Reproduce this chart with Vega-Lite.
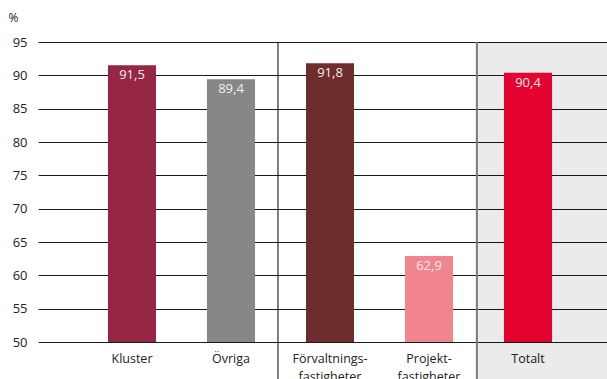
{
  "$schema": "https://vega.github.io/schema/vega-lite/v6.json",
  "width": 569,
  "height": 300,
  "autosize": "none",
  "padding": {"left": 38, "top": 42, "right": 0, "bottom": 37},
  "config": {
    "view": {"stroke": null},
    "font": "Open Sans",
    "locale": {"number": {"decimal": ",", "thousands": " ", "grouping": [3], "currency": ["", " kr"]}}
  },
  "data": {
    "values": [
      {"kategori": "Kluster", "andel": 91.5},
      {"kategori": "Övriga", "andel": 89.4},
      {"kategori": "Förvaltnings-fastigheter", "andel": 91.8},
      {"kategori": "Projekt-fastigheter", "andel": 62.9},
      {"kategori": "Totalt", "andel": 90.4}
    ]
  },
  "resolve": {"scale": {"x": "independent"}},
  "layer": [
    {
      "data": {"values": [{}]},
      "layer": [
        {
          "mark": {"type": "rect", "color": "#000000", "opacity": 0.078, "clip": false},
          "encoding": {
            "x": {"datum": 4.485, "type": "quantitative", "scale": {"domain": [0.05, 5.8], "nice": false, "zero": false}, "axis": null},
            "x2": {"datum": 5.8},
            "y": {
              "datum": 95, "type": "quantitative",
              "scale": {"domain": [50, 95], "nice": false, "zero": false},
              "axis": {
                "values": [50, 55, 60, 65, 70, 75, 80, 85, 90, 95],
                "title": "%", "titleAngle": 0, "titleAlign": "left", "titleBaseline": "middle",
                "titleX": -30, "titleY": -25, "titleFontSize": 12, "titleFontWeight": "normal", "titleColor": "#222222",
                "ticks": false, "domain": false,
                "labelFontSize": 13, "labelColor": "#222222", "labelPadding": 11,
                "grid": true, "gridColor": "#1a1a1a", "gridWidth": 1, "gridOpacity": 1
              }
            },
            "y2": {"datum": 44}
          }
        },
        {
          "mark": {"type": "rule", "color": "#000000", "strokeWidth": 1, "clip": false},
          "encoding": {
            "x": {"datum": 2.475, "type": "quantitative", "scale": {"domain": [0.05, 5.8], "nice": false, "zero": false}, "axis": null},
            "y": {
              "datum": 95, "type": "quantitative",
              "axis": {
                "values": [50, 55, 60, 65, 70, 75, 80, 85, 90, 95],
                "title": "%", "titleAngle": 0, "titleAlign": "left", "titleBaseline": "middle",
                "titleX": -30, "titleY": -25, "titleFontSize": 12, "titleFontWeight": "normal", "titleColor": "#222222",
                "ticks": false, "domain": false,
                "labelFontSize": 13, "labelColor": "#222222", "labelPadding": 11,
                "grid": true, "gridColor": "#1a1a1a", "gridWidth": 1, "gridOpacity": 1
              }
            },
            "y2": {"datum": 44}
          }
        },
        {
          "mark": {"type": "rule", "color": "#7a7a7a", "strokeWidth": 2, "clip": false},
          "encoding": {
            "x": {"datum": 4.485, "type": "quantitative", "scale": {"domain": [0.05, 5.8], "nice": false, "zero": false}, "axis": null},
            "y": {
              "datum": 95, "type": "quantitative",
              "axis": {
                "values": [50, 55, 60, 65, 70, 75, 80, 85, 90, 95],
                "title": "%", "titleAngle": 0, "titleAlign": "left", "titleBaseline": "middle",
                "titleX": -30, "titleY": -25, "titleFontSize": 12, "titleFontWeight": "normal", "titleColor": "#222222",
                "ticks": false, "domain": false,
                "labelFontSize": 13, "labelColor": "#222222", "labelPadding": 11,
                "grid": true, "gridColor": "#1a1a1a", "gridWidth": 1, "gridOpacity": 1
              }
            },
            "y2": {"datum": 44}
          }
        }
      ]
    },
    {
      "mark": {"type": "bar"},
      "encoding": {
        "x": {
          "field": "kategori", "type": "nominal", "sort": null,
          "scale": {"type": "band", "paddingInner": 0.515, "paddingOuter": 0.631, "align": 0.56},
          "axis": {
            "title": null, "ticks": false, "domain": false, "grid": false,
            "labelAngle": 0, "labelFontSize": 12.5, "labelColor": "#222222",
            "labelPadding": 10, "labelLineHeight": 18,
            "labelExpr": "indexof(datum.label, '-') > 0 ? [slice(datum.label, 0, indexof(datum.label, '-') + 1), slice(datum.label, indexof(datum.label, '-') + 1)] : datum.label"
          }
        },
        "y": {
          "field": "andel", "type": "quantitative",
          "scale": {"domain": [50, 95], "nice": false, "zero": false},
          "axis": {
            "values": [50, 55, 60, 65, 70, 75, 80, 85, 90, 95],
            "title": "%", "titleAngle": 0, "titleAlign": "left", "titleBaseline": "middle",
            "titleX": -30, "titleY": -25, "titleFontSize": 12, "titleFontWeight": "normal", "titleColor": "#222222",
            "ticks": false, "domain": false,
            "labelFontSize": 13, "labelColor": "#222222", "labelPadding": 11,
            "grid": true, "gridColor": "#1a1a1a", "gridWidth": 1, "gridOpacity": 1
          }
        },
        "y2": {"datum": 50},
        "color": {
          "field": "kategori", "type": "nominal", "legend": null,
          "scale": {
            "domain": ["Kluster", "Övriga", "Förvaltnings-fastigheter", "Projekt-fastigheter", "Totalt"],
            "range": ["#952745", "#878787", "#6c2d2c", "#f08590", "#e4032e"]
          }
        }
      }
    },
    {
      "mark": {"type": "text", "baseline": "top", "dy": 4, "fontSize": 13, "color": "#f6ecee"},
      "encoding": {
        "x": {"field": "kategori", "type": "nominal", "sort": null, "scale": {"type": "band", "paddingInner": 0.515, "paddingOuter": 0.631, "align": 0.56}, "axis": null},
        "y": {
          "field": "andel", "type": "quantitative",
          "axis": {
            "values": [50, 55, 60, 65, 70, 75, 80, 85, 90, 95],
            "title": "%", "titleAngle": 0, "titleAlign": "left", "titleBaseline": "middle",
            "titleX": -30, "titleY": -25, "titleFontSize": 12, "titleFontWeight": "normal", "titleColor": "#222222",
            "ticks": false, "domain": false,
            "labelFontSize": 13, "labelColor": "#222222", "labelPadding": 11,
            "grid": true, "gridColor": "#1a1a1a", "gridWidth": 1, "gridOpacity": 1
          }
        },
        "text": {"field": "andel", "type": "quantitative", "format": ".1f"}
      }
    }
  ]
}
